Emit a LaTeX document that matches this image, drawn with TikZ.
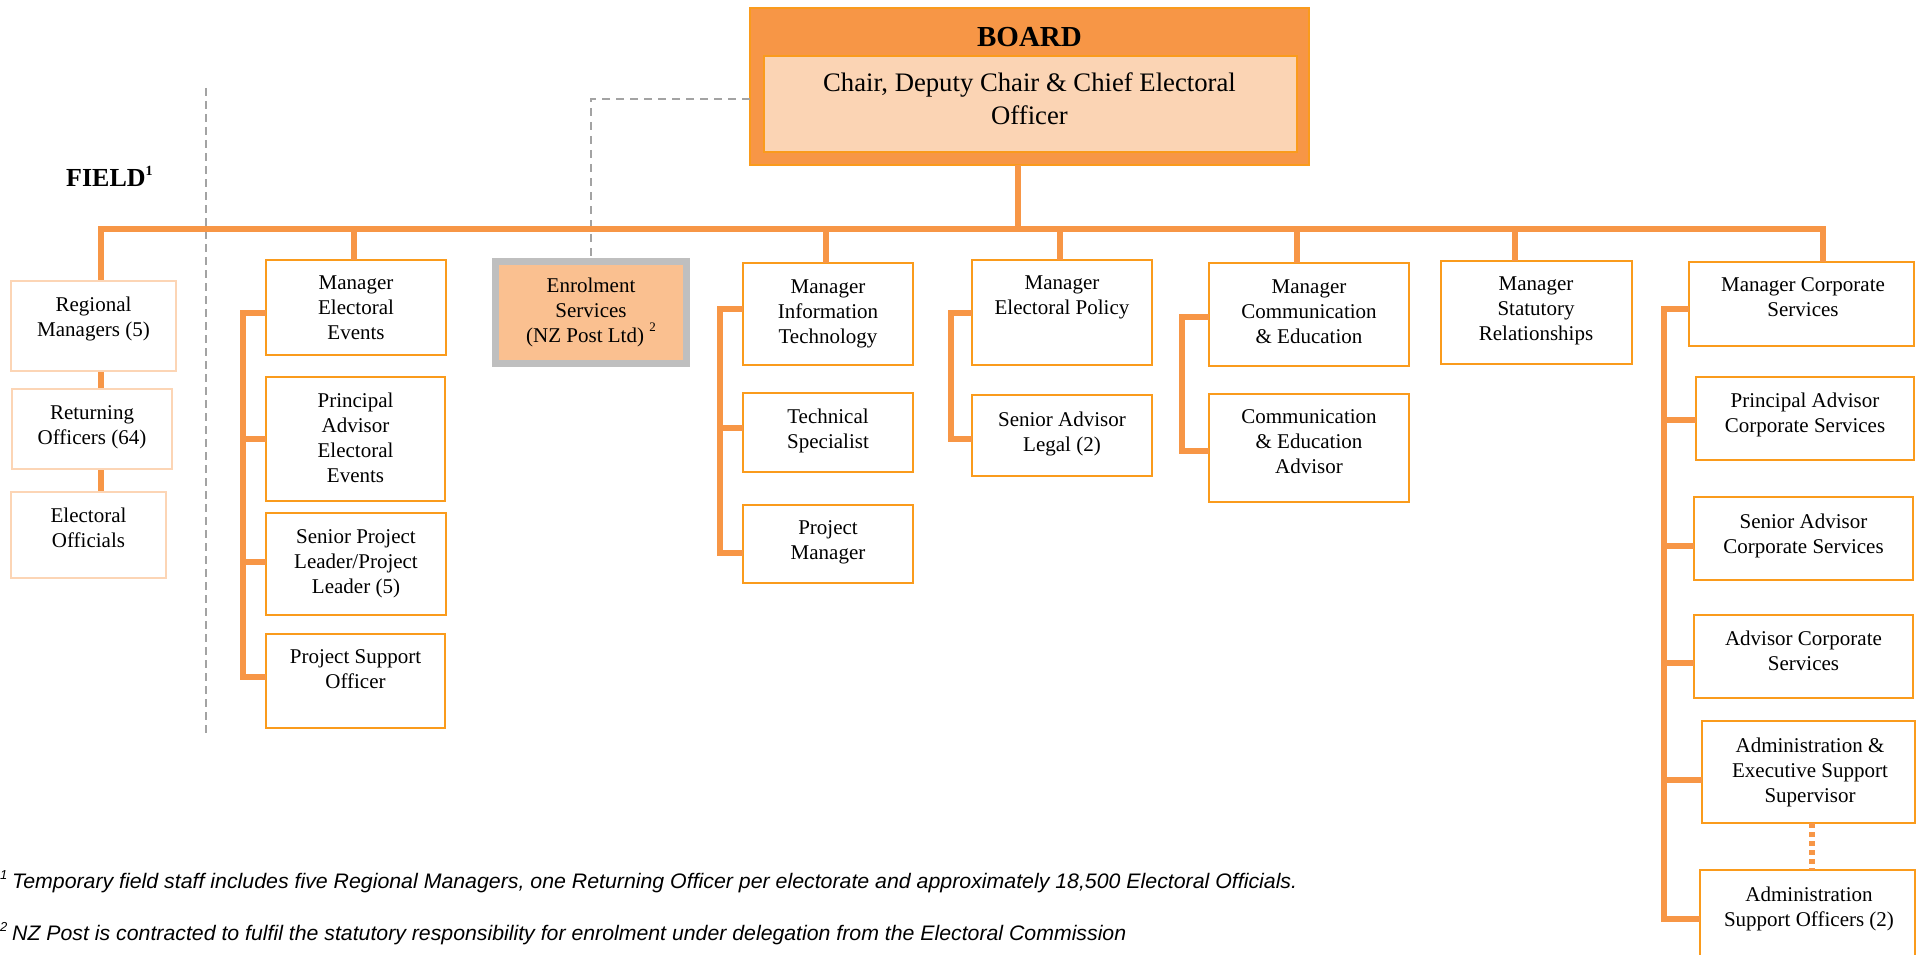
\documentclass[tikz,border=0pt]{standalone}
\usepackage{fontspec}
\setmainfont{Liberation Serif}
\newfontfamily\fnfont{Liberation Sans}
\usepackage{graphicx}
\definecolor{conn}{HTML}{F79646}
\definecolor{bord}{HTML}{FA9B1C}
\definecolor{fieldbord}{HTML}{FCD5B5}
\definecolor{boardfill}{HTML}{F79646}
\definecolor{boardin}{HTML}{FBD4B4}
\definecolor{enrfill}{HTML}{FAC090}
\definecolor{enrbord}{HTML}{BFBFBF}
\definecolor{dashgray}{HTML}{A3A3A3}
\tikzset{
  obox/.style={draw=bord, line width=2pt, fill=white, inner sep=0pt, outer sep=0pt, anchor=north west},
  fieldbox/.style={draw=fieldbord, line width=2pt, fill=white, inner sep=0pt, outer sep=0pt, anchor=north west},
  link/.style={draw=conn, line width=5.5pt, line join=miter},
  gdash/.style={draw=dashgray, line width=1.6pt, dash pattern=on 8pt off 5pt},
  txt/.style={font=\fontsize{21}{25}\selectfont, align=center, inner sep=0pt, anchor=north},
}
\newcommand\orgrect[6]{\node[#2, minimum width={(#5)-(#3)}, minimum height={(#6)-(#4)}] (#1) at (#3,#4) {};}
\newcommand\orgtext[4]{\node[txt] (#1) at (#2,{(#3)-7.2}) {#4};}
\begin{document}
\begin{tikzpicture}[x=1pt,y=-1pt]
\useasboundingbox (0,0) rectangle (1917,955);

% ---------- board ----------
\node[fill=boardfill, draw=bord, line width=1.5pt, inner sep=0pt, outer sep=0pt, anchor=north west,
      minimum width=559, minimum height=157] (board) at (750,8) {};
\node[fill=boardin, draw=bord, line width=2.5pt, inner sep=0pt, outer sep=0pt, anchor=north west,
      minimum width=533, minimum height=96] (boardin) at (764,56) {};
\node[font=\fontsize{29}{34}\bfseries\selectfont, anchor=base, inner sep=0pt] (boardtitle) at (1029.5,47) {BOARD};
\node[font=\fontsize{26.7}{32.7}\selectfont, align=center, anchor=north, inner sep=0pt] (boardtext) at (1029.5,72.5)
  {Chair, Deputy Chair \& Chief Electoral\\Officer};

% ---------- field heading and separator ----------
\node[font=\fontsize{26}{30}\bfseries\selectfont, anchor=base west, inner sep=0pt] (field) at (66,186.6)
  {FIELD\raisebox{11pt}{\fontsize{14}{14}\selectfont 1}};
\coordinate (septop) at (206,88);
\coordinate (sepbot) at (206,735);
\draw[gdash] (septop) -- (sepbot);

% ---------- boxes (geometry) ----------
\orgrect{rm}{fieldbox}{11}{281}{176}{371}
\orgrect{ro}{fieldbox}{12}{389}{172}{469}
\orgrect{eo}{fieldbox}{11}{492}{166}{578}

\orgrect{mee}{obox}{266}{260}{446}{355}
\orgrect{paee}{obox}{266}{377}{445}{501}
\orgrect{spl}{obox}{266}{513}{446}{615}
\orgrect{pso}{obox}{266}{634}{445}{728}

\node[fill=enrfill, draw=enrbord, line width=7pt, inner sep=0pt, outer sep=0pt, anchor=north west,
      minimum width=191, minimum height=102] (enr) at (495.5,261.5) {};

\orgrect{it}{obox}{743}{263}{913}{365}
\orgrect{ts}{obox}{743}{393}{913}{472}
\orgrect{pm}{obox}{743}{505}{913}{583}

\orgrect{ep}{obox}{972}{260}{1152}{365}
\orgrect{sal}{obox}{972}{395}{1152}{476}

\orgrect{comm}{obox}{1209}{263}{1409}{366}
\orgrect{cea}{obox}{1209}{394}{1409}{502}

\orgrect{stat}{obox}{1441}{261}{1632}{364}

\orgrect{mcs}{obox}{1689}{262}{1914}{346}
\orgrect{pacs}{obox}{1696}{377}{1914}{460}
\orgrect{sacs}{obox}{1694}{497}{1913}{580}
\orgrect{acs}{obox}{1694}{615}{1913}{698}
\orgrect{aess}{obox}{1702}{721}{1915}{823}
\orgrect{aso}{obox}{1700}{870}{1915}{990}

% ---------- connectors ----------
\draw[gdash, line width=2pt, dash pattern=on 8pt off 6pt] (board.west |- 0,99) -| (enr.north);
\draw[link] (1018,0 |- board.south) -- (1018,229);
\draw[link] (101,0 |- rm.north) |- (1823,229) -- (1823,0 |- mcs.north);
\draw[link] (101,0 |- rm.south) -- (101,0 |- ro.north);
\draw[link] (101,0 |- ro.south) -- (101,0 |- eo.north);
\draw[link] (354,229) -- (354,0 |- mee.north);
\draw[link] (826,229) -- (826,0 |- it.north);
\draw[link] (1060,229) -- (1060,0 |- ep.north);
\draw[link] (1297,229) -- (1297,0 |- comm.north);
\draw[link] (1515,229) -- (1515,0 |- stat.north);

\draw[link] (mee.west |- 0,313) -| (243,677) -- (pso.west |- 0,677);
\draw[link] (243,439) -- (paee.west |- 0,439);
\draw[link] (243,562) -- (spl.west |- 0,562);

\draw[link] (it.west |- 0,309) -| (720,553) -- (pm.west |- 0,553);
\draw[link] (720,428) -- (ts.west |- 0,428);

\draw[link] (ep.west |- 0,313) -| (951,439) -- (sal.west |- 0,439);
\draw[link] (comm.west |- 0,317) -| (1182,451) -- (cea.west |- 0,451);

\draw[link] (mcs.west |- 0,309) -| (1664,919) -- (aso.west |- 0,919);
\draw[link] (1664,420) -- (pacs.west |- 0,420);
\draw[link] (1664,546) -- (sacs.west |- 0,546);
\draw[link] (1664,663) -- (acs.west |- 0,663);
\draw[link] (1664,780) -- (aess.west |- 0,780);
\draw[draw=conn, line width=6pt, dash pattern=on 5pt off 4pt] (aess.south -| 1812,0) -- (aso.north -| 1812,0);

% redraw boxes on top of connector ends
\orgrect{rmb}{fieldbox}{11}{281}{176}{371}
\orgrect{rob}{fieldbox}{12}{389}{172}{469}
\orgrect{eob}{fieldbox}{11}{492}{166}{578}

% ---------- texts ----------
\orgtext{trm}{93.5}{304}{Regional\\Managers (5)}
\orgtext{tro}{92}{413}{Returning\\Officers (64)}
\orgtext{teo}{88.5}{515}{Electoral\\Officials}

\orgtext{tmee}{356}{283}{Manager\\Electoral\\Events}
\orgtext{tpaee}{355.5}{400}{Principal\\Advisor\\Electoral\\Events}
\orgtext{tspl}{356}{537}{Senior Project\\Leader/Project\\Leader (5)}
\orgtext{tpso}{355.5}{657}{Project Support\\Officer}

\orgtext{tenr}{591}{285}{Enrolment\\Services\\(NZ Post Ltd) \raisebox{11pt}{\fontsize{13}{13}\selectfont 2}}

\orgtext{tit}{828}{287}{Manager\\Information\\Technology}
\orgtext{tts}{828}{416}{Technical\\Specialist}
\orgtext{tpm}{828}{528}{Project\\Manager}

\orgtext{tep}{1062}{283}{Manager\\Electoral Policy}
\orgtext{tsal}{1062}{419}{Senior Advisor\\Legal (2)}

\orgtext{tcomm}{1309}{287}{Manager\\Communication\\\& Education}
\orgtext{tcea}{1309}{417}{Communication\\\& Education\\Advisor}

\orgtext{tstat}{1536}{284}{Manager\\Statutory\\Relationships}

\orgtext{tmcs}{1803}{285}{Manager Corporate\\Services}
\orgtext{tpacs}{1805}{400}{Principal Advisor\\Corporate Services}
\orgtext{tsacs}{1803.5}{521}{Senior Advisor\\Corporate Services}
\orgtext{tacs}{1803.5}{638}{Advisor Corporate\\Services}
\orgtext{taess}{1810}{745}{Administration \&\\Executive Support\\Supervisor}
\orgtext{taso}{1809}{894}{Administration\\Support Officers (2)}

% ---------- footnotes ----------
\node[anchor=base west, inner sep=0pt, font=\fontsize{13}{13}\fnfont\itshape\selectfont] (fnmarkA) at (0,879) {1};
\node[anchor=base west, inner sep=0pt, font=\fontsize{21}{25}\fnfont\itshape\selectfont] (fnA) at (12,888)
  {\resizebox{1285pt}{\height}{Temporary field staff includes five Regional Managers, one Returning Officer per electorate and approximately 18,500 Electoral Officials.}};
\node[anchor=base west, inner sep=0pt, font=\fontsize{13}{13}\fnfont\itshape\selectfont] (fnmarkB) at (0,931) {2};
\node[anchor=base west, inner sep=0pt, font=\fontsize{21}{25}\fnfont\itshape\selectfont] (fnB) at (12,940)
  {\resizebox{1114pt}{\height}{NZ Post is contracted to fulfil the statutory responsibility for enrolment under delegation from the Electoral Commission}};
\end{tikzpicture}
\end{document}
